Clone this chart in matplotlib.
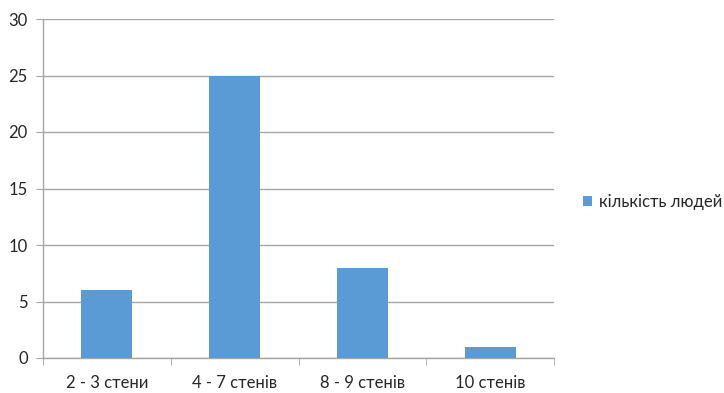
import matplotlib
matplotlib.use("Agg")
import matplotlib.pyplot as plt
from matplotlib.patches import Patch

categories = ["2 - 3 стени", "4 - 7 стенів", "8 - 9 стенів", "10 стенів"]
values = [6, 25, 8, 1]
series_name = "кількість людей"
yticks = [0, 5, 10, 15, 20, 25, 30]

plt.rcParams['font.family'] = ['Lato', 'DejaVu Sans']
fig = plt.figure(figsize=(7.24, 3.93), dpi=100)
ax = fig.add_axes([43/724, 35/393, (554-43)/724, (358-19)/393])

color = '#5b9bd5'
grid = '#a6a6a6'
x = list(range(len(categories)))
ax.bar(x, values, width=0.4, color=color, zorder=3)
ax.set_xlim(-0.5, len(categories) - 0.5)
ax.set_ylim(0, 30)
ax.set_yticks(yticks)
ax.yaxis.grid(True, color=grid, linewidth=1.0, zorder=0)
for s in ['top', 'right']:
    ax.spines[s].set_visible(False)
for s in ['left', 'bottom']:
    ax.spines[s].set_color(grid)
    ax.spines[s].set_linewidth(1.0)
ax.tick_params(axis='y', length=5, color=grid, labelsize=12, pad=6, labelcolor='#262626')
ax.set_xticks(x)
ax.set_xticklabels(categories, fontsize=12, color='#262626')
ax.tick_params(axis='x', length=0, pad=12)
ax.set_xticks([i - 0.5 for i in range(len(categories) + 1)], minor=True)
ax.tick_params(axis='x', which='minor', length=5, color=grid)

handle = Patch(facecolor=color, edgecolor='none')
fig.legend([handle], [series_name], loc='center left', bbox_to_anchor=(576/724, 1 - 202/393),
           frameon=False, fontsize=12, handlelength=0.55, handleheight=0.55, handletextpad=0.45,
           borderaxespad=0, labelcolor='#262626')

fig.savefig("out.png", dpi=100, facecolor='white')
